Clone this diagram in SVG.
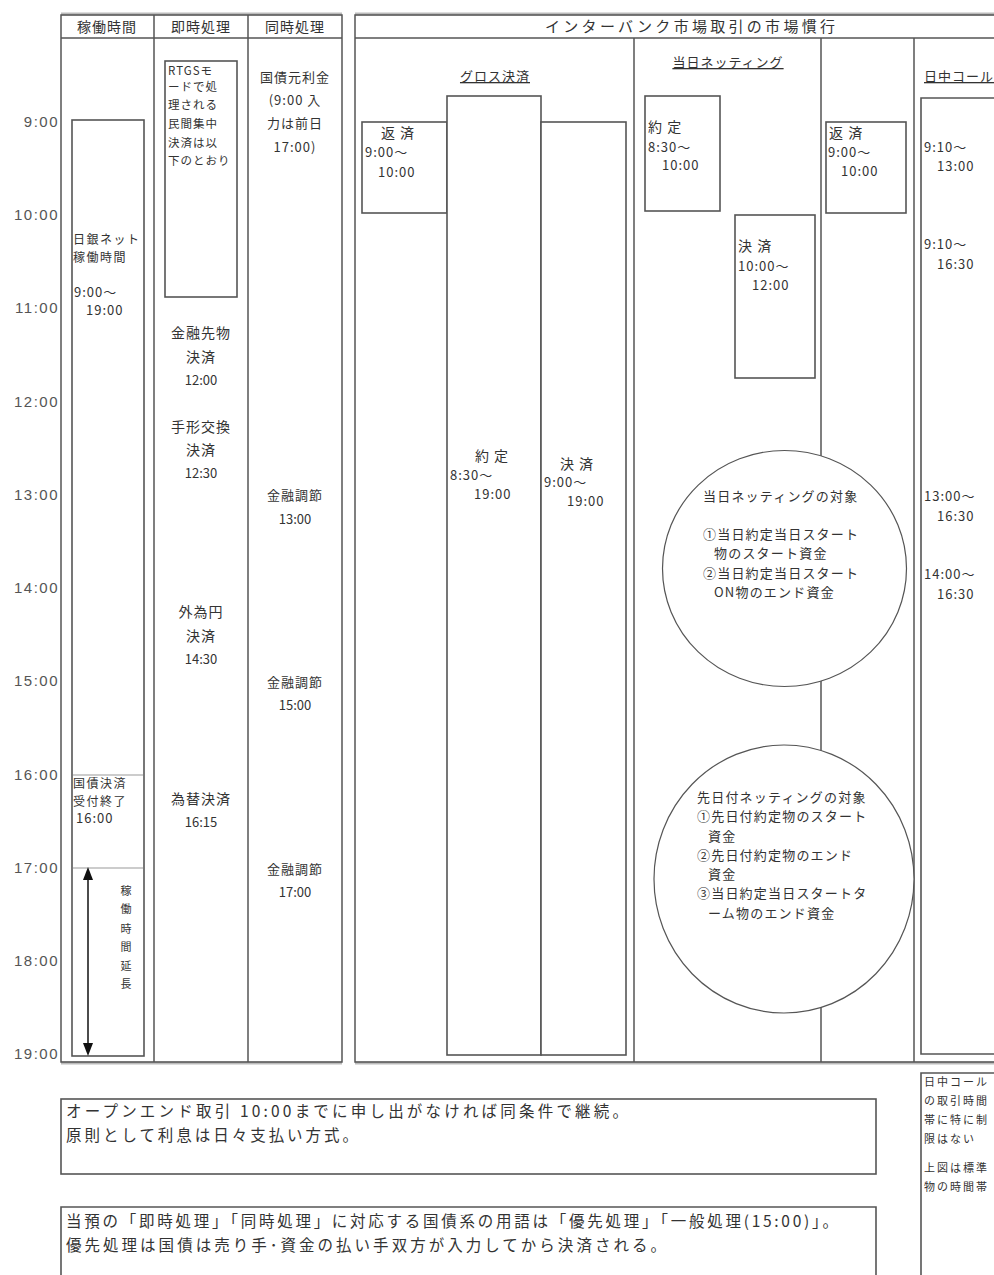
<svg xmlns="http://www.w3.org/2000/svg" width="994" height="1275" viewBox="0 0 994 1275">
<defs>
<style>
.t{font-family:"Noto Sans CJK JP","Liberation Sans",sans-serif;fill:#333}
.ax{font-family:"Liberation Sans",sans-serif;font-size:15px;fill:#555;letter-spacing:1.5px;text-anchor:end}
.ln{stroke:#555;stroke-width:1.5;fill:none}
.bx{fill:#fff;stroke:#555;stroke-width:1.6}
.gl{stroke:#bbb;stroke-width:3;fill:none}
.s11{font-size:11px}
.s12{font-size:12px;letter-spacing:1.5px}
.s13{font-size:13px;letter-spacing:1px}
.s14{font-size:14px;letter-spacing:1px}
.d13{font-size:13px;letter-spacing:0}
.m{text-anchor:middle}
.u{text-decoration:underline}
.ci{fill:#fff;stroke:#555;stroke-width:1.2}
.nb{font-size:15.5px}
</style>
</defs>
<rect width="994" height="1275" fill="#fff"/>

<g id="time-axis">
<text class="ax" x="59" y="127">9:00</text>
<text class="ax" x="59" y="220">10:00</text>
<text class="ax" x="59" y="313">11:00</text>
<text class="ax" x="59" y="407">12:00</text>
<text class="ax" x="59" y="500">13:00</text>
<text class="ax" x="59" y="593">14:00</text>
<text class="ax" x="59" y="686">15:00</text>
<text class="ax" x="59" y="780">16:00</text>
<text class="ax" x="59" y="873">17:00</text>
<text class="ax" x="59" y="966">18:00</text>
<text class="ax" x="59" y="1059">19:00</text>
</g>

<g id="left-table">
<line class="gl" x1="61" y1="14" x2="342" y2="14"/>
<line class="gl" x1="61" y1="1063" x2="342" y2="1063"/>
<rect class="ln" x="61" y="15" width="281" height="1047"/>
<line class="ln" x1="61" y1="38" x2="342" y2="38"/>
<line class="ln" x1="154" y1="15" x2="154" y2="1062"/>
<line class="ln" x1="248" y1="15" x2="248" y2="1062"/>
<text class="t s14 m" x="107" y="32">稼働時間</text>
<text class="t s14 m" x="201" y="32">即時処理</text>
<text class="t s14 m" x="295" y="32">同時処理</text>
</g>

<g id="operating-hours">
<rect class="bx" x="72" y="120" width="72" height="936"/>
<line x1="73" y1="775" x2="143" y2="775" stroke="#ccc" stroke-width="2"/>
<line x1="73" y1="868" x2="143" y2="868" stroke="#ccc" stroke-width="2"/>
<text class="t s12" x="73" y="244">日銀ネット</text>
<text class="t s12" x="73" y="262">稼働時間</text>
<text class="t s13" x="74" y="297">9:00～</text>
<text class="t s13" x="86" y="315">19:00</text>
<text class="t s12" x="73" y="788">国債決済</text>
<text class="t s12" x="73" y="806">受付終了</text>
<text class="t s13" x="76" y="823">16:00</text>
<g class="t s11 m">
<text x="126" y="895">稼</text>
<text x="126" y="913">働</text>
<text x="126" y="933">時</text>
<text x="126" y="951">間</text>
<text x="126" y="970">延</text>
<text x="126" y="988">長</text>
</g>
</g>

<g id="connectors">
<line x1="88" y1="880" x2="88" y2="1043" stroke="#111" stroke-width="1.5"/>
<path d="M88,867 L83,880 L93,880 Z" fill="#111"/>
<path d="M88,1056 L83,1043 L93,1043 Z" fill="#111"/>
</g>

<g id="rtgs-note">
<rect class="bx" x="165" y="61" width="72" height="236" stroke-width="2.2"/>
<g class="t" font-size="11.5" letter-spacing="1">
<text x="168" y="75">RTGSモ</text>
<text x="168" y="91">ードで処</text>
<text x="168" y="109">理される</text>
<text x="168" y="128">民間集中</text>
<text x="168" y="147">決済は以</text>
<text x="168" y="165">下のとおり</text>
</g>
</g>

<g id="immediate-items" class="t m">
<text class="s14" x="201" y="338">金融先物</text>
<text class="s14" x="201" y="362">決済</text>
<text class="d13" x="201" y="385">12:00</text>
<text class="s14" x="201" y="432">手形交換</text>
<text class="s14" x="201" y="455">決済</text>
<text class="d13" x="201" y="478">12:30</text>
<text class="s14" x="201" y="617">外為円</text>
<text class="s14" x="201" y="641">決済</text>
<text class="d13" x="201" y="664">14:30</text>
<text class="s14" x="201" y="804">為替決済</text>
<text class="d13" x="201" y="827">16:15</text>
</g>

<g id="simultaneous-items" class="t m">
<text class="s13" x="295" y="82">国債元利金</text>
<text class="s13" x="295" y="105">(9:00 入</text>
<text class="s13" x="295" y="128">力は前日</text>
<text class="s13" x="295" y="152">17:00)</text>
<text class="s13" x="295" y="500">金融調節</text>
<text class="d13" x="295" y="524">13:00</text>
<text class="s13" x="295" y="687">金融調節</text>
<text class="d13" x="295" y="710">15:00</text>
<text class="s13" x="295" y="874">金融調節</text>
<text class="d13" x="295" y="897">17:00</text>
</g>

<g id="right-table">
<line class="gl" x1="355" y1="14" x2="994" y2="14"/>
<line class="gl" x1="355" y1="1063" x2="994" y2="1063"/>
<path class="ln" d="M994,15 H355 V1062 H994"/>
<line class="ln" x1="355" y1="38" x2="994" y2="38"/>
<line class="ln" x1="634" y1="38" x2="634" y2="1062"/>
<line class="ln" x1="821" y1="38" x2="821" y2="1062"/>
<line class="ln" x1="914" y1="38" x2="914" y2="1062"/>
<text class="t" font-size="15" x="545" y="32" textLength="290" lengthAdjust="spacing">インターバンク市場取引の市場慣行</text>
</g>

<g id="gross-settlement">
<text class="t s13 m u" x="495" y="81">グロス決済</text>
<rect class="bx" x="362" y="122" width="85" height="91"/>
<text class="t s14 m" x="398" y="138">返 済</text>
<text class="t s13" x="365" y="157">9:00～</text>
<text class="t s13" x="378" y="177">10:00</text>
<rect class="bx" x="447" y="96" width="94" height="959"/>
<text class="t s14 m" x="492" y="461">約 定</text>
<text class="t s13" x="450" y="480">8:30～</text>
<text class="t s13" x="474" y="499">19:00</text>
<rect class="bx" x="541" y="122" width="85" height="933"/>
<text class="t s14 m" x="577" y="469">決 済</text>
<text class="t s13" x="544" y="487">9:00～</text>
<text class="t s13" x="567" y="506">19:00</text>
</g>

<g id="same-day-netting">
<text class="t s13 m u" x="728" y="67">当日ネッティング</text>
<rect class="bx" x="645" y="96" width="75" height="115"/>
<text class="t s14" x="648" y="132">約 定</text>
<text class="t s13" x="648" y="152">8:30～</text>
<text class="t s13" x="662" y="170">10:00</text>
<rect class="bx" x="735" y="215" width="80" height="163"/>
<text class="t s14" x="738" y="251">決 済</text>
<text class="t s13" x="738" y="271">10:00～</text>
<text class="t s13" x="752" y="290">12:00</text>
</g>

<g id="repayment">
<rect class="bx" x="826" y="122" width="80" height="91"/>
<text class="t s14" x="829" y="138">返 済</text>
<text class="t s13" x="828" y="157">9:00～</text>
<text class="t s13" x="841" y="176">10:00</text>
</g>

<g id="intraday-call">
<text class="t s13 u" x="924" y="81">日中コール</text>
<path class="bx" d="M1000,98 H921 V1054 H1000"/>
<text class="t s13" x="924" y="152">9:10～</text>
<text class="t s13" x="937" y="171">13:00</text>
<text class="t s13" x="924" y="249">9:10～</text>
<text class="t s13" x="937" y="269">16:30</text>
<text class="t s13" x="924" y="501">13:00～</text>
<text class="t s13" x="937" y="521">16:30</text>
<text class="t s13" x="924" y="579">14:00～</text>
<text class="t s13" x="937" y="599">16:30</text>
</g>

<g id="same-day-netting-scope">
<ellipse class="ci" cx="784.5" cy="568.5" rx="122" ry="118"/>
<g class="t" font-size="13" letter-spacing="1.2">
<text x="703" y="501">当日ネッティングの対象</text>
<text x="703" y="539">①当日約定当日スタート</text>
<text x="714" y="558">物のスタート資金</text>
<text x="703" y="578">②当日約定当日スタート</text>
<text x="714" y="597">ON物のエンド資金</text>
</g>
</g>

<g id="forward-netting-scope">
<ellipse class="ci" cx="784" cy="879" rx="130" ry="134"/>
<g class="t" font-size="13" letter-spacing="1.2">
<text x="697" y="802">先日付ネッティングの対象</text>
<text x="697" y="821">①先日付約定物のスタート</text>
<text x="708" y="841">資金</text>
<text x="697" y="860">②先日付約定物のエンド</text>
<text x="708" y="879">資金</text>
<text x="697" y="898">③当日約定当日スタートタ</text>
<text x="708" y="918">ーム物のエンド資金</text>
</g>
</g>

<g id="note-open-end">
<rect class="bx" x="61" y="1099" width="815" height="75" stroke="#777"/>
<text class="t nb" x="66" y="1117" textLength="562" lengthAdjust="spacing">オープンエンド取引 10:00までに申し出がなければ同条件で継続。</text>
<text class="t nb" x="66" y="1141" textLength="292" lengthAdjust="spacing">原則として利息は日々支払い方式。</text>
</g>

<g id="note-terms">
<path class="bx" d="M61,1280 V1207 H876 V1280" stroke="#777"/>
<text class="t nb" x="66" y="1227" textLength="772" lengthAdjust="spacing">当預の「即時処理」「同時処理」に対応する国債系の用語は「優先処理」「一般処理(15:00)」。</text>
<text class="t nb" x="66" y="1251" textLength="600" lengthAdjust="spacing">優先処理は国債は売り手･資金の払い手双方が入力してから決済される。</text>
</g>

<g id="note-call">
<path class="bx" d="M1000,1073 H921 V1280" stroke="#888" stroke-width="2"/>
<g class="t" font-size="11" letter-spacing="2">
<text x="924" y="1086">日中コール</text>
<text x="924" y="1105">の取引時間</text>
<text x="924" y="1124">帯に特に制</text>
<text x="924" y="1143">限はない</text>
<text x="924" y="1172">上図は標準</text>
<text x="924" y="1191">物の時間帯</text>
</g>
</g>
</svg>
